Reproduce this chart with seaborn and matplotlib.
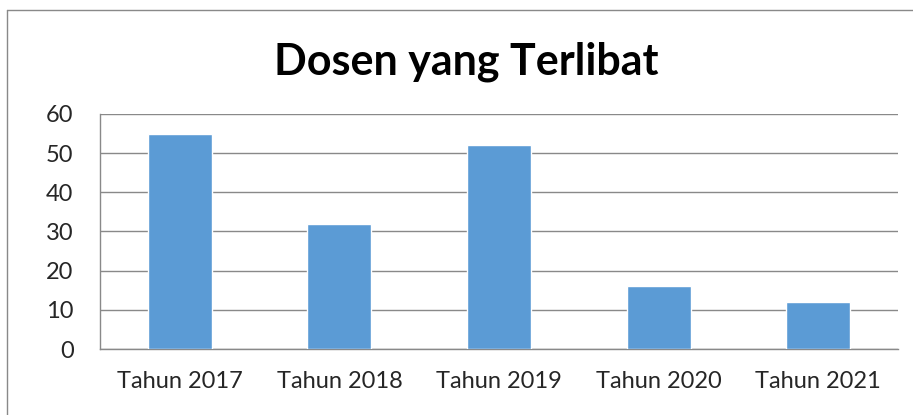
import numpy as np
import pandas as pd
import seaborn as sns
import matplotlib.pyplot as plt
from matplotlib.lines import Line2D

# --- Data ---
categories = ["Tahun 2017", "Tahun 2018", "Tahun 2019", "Tahun 2020", "Tahun 2021"]
values = [55, 32, 52, 16, 12]
y_ticks = [0, 10, 20, 30, 40, 50, 60]
title = "Dosen yang Terlibat"

BAR_COLOR = "#5B9BD5"
GRID_COLOR = "#898989"
W, H = 913, 415


def main():
    sns.set_style("white")
    plt.rcParams['font.family'] = ['Lato', 'DejaVu Sans']

    df = pd.DataFrame({"kategori": categories, "jumlah": values})

    fig = plt.figure(figsize=(W / 100, H / 100), dpi=100)
    ax = fig.add_axes([100 / W, (H - 349) / H, (898 - 100) / W, (349 - 114) / H])

    sns.barplot(data=df, x="kategori", y="jumlah", color=BAR_COLOR,
                width=0.4, saturation=1, ax=ax, zorder=3)

    ax.set_xlim(-0.5, len(categories) - 0.5)
    ax.set_ylim(0, 60)
    ax.set_yticks(y_ticks)
    ax.set_yticklabels([str(v) for v in y_ticks], fontsize=17)
    ax.set_xlabel("")
    ax.set_ylabel("")
    ax.tick_params(axis='x', which='major', length=0, labelsize=17, pad=16)
    ax.set_xticks(np.arange(-0.5, len(categories)), minor=True)
    ax.tick_params(axis='x', which='minor', length=6, width=1, color=GRID_COLOR, direction='out')
    ax.tick_params(axis='y', length=7, width=1, color=GRID_COLOR, pad=12, direction='out')

    ax.yaxis.grid(True, color=GRID_COLOR, linewidth=1, zorder=0)
    ax.set_axisbelow(True)
    for side in ['top', 'right']:
        ax.spines[side].set_visible(False)
    for side in ['left', 'bottom']:
        ax.spines[side].set_color(GRID_COLOR)
        ax.spines[side].set_linewidth(1)

    fig.text(466 / W, (H - 62) / H, title, ha='center', va='center',
             fontsize=31, fontweight='bold', color='black')

    # chart frame (left and top edge visible in the crop)
    fig.add_artist(Line2D([7 / W, 7 / W], [0, (H - 10) / H], color=GRID_COLOR, linewidth=1))
    fig.add_artist(Line2D([7 / W, 1], [(H - 10) / H, (H - 10) / H], color=GRID_COLOR, linewidth=1))

    fig.savefig("out.png", dpi=100, facecolor='white')
    plt.close(fig)


if __name__ == "__main__":
    main()
